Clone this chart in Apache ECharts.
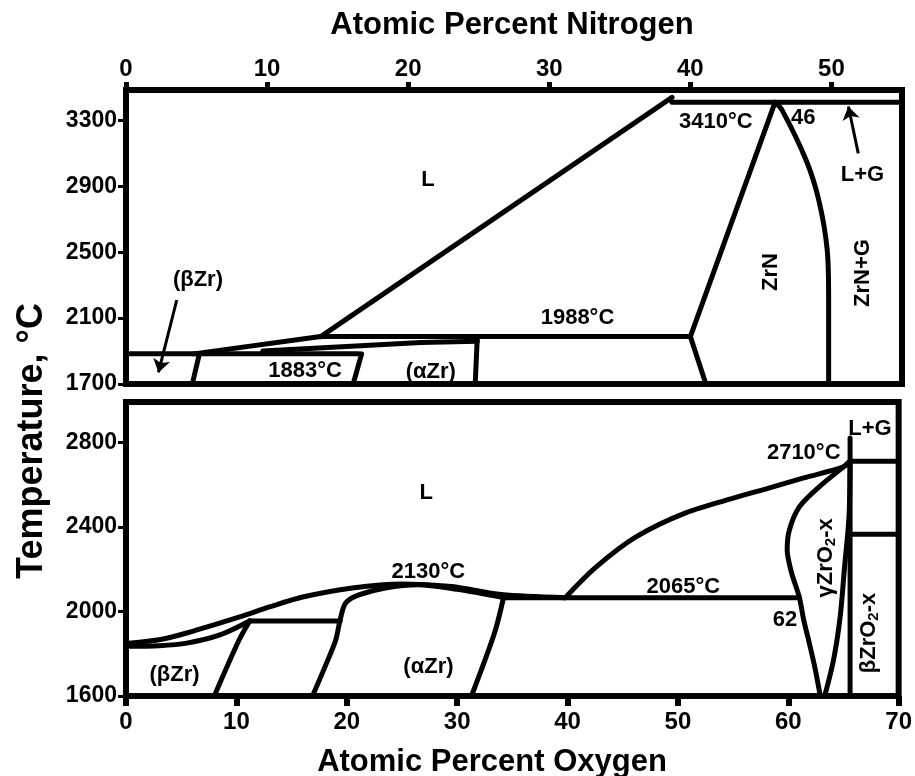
<!DOCTYPE html>
<html>
<head>
<meta charset="utf-8">
<title>Zr-N / Zr-O</title>
<script src="https://cdn.jsdelivr.net/npm/echarts@6/dist/echarts.min.js"></script>
<style>
  html, body { margin: 0; padding: 0; background: #fff; }
  #chart { width: 915px; height: 776px; }
</style>
</head>
<body>
<div id="chart"></div>
<script>
// ---- Zr-N (top panel): [at.% N, T in °C]
var nTicksX = [0, 10, 20, 30, 40, 50];
var nTicksY = [1700, 2100, 2500, 2900, 3300];
var nLiquidus = [[13.8, 1988], [38.7, 3440]];
var n3410 = [[38.7, 3410], [55, 3410]];
var n1988 = [[13.8, 1988], [40, 1988]];
var n1883 = [[0, 1883], [16.5, 1883]];
var nBetaLiquidus = [[4.8, 1883], [13.8, 1988]];
var nAlphaSolidus = [[9.7, 1900], [20.9, 1952], [24.9, 1960]];
var nBetaBoundary = [[5.2, 1883], [4.7, 1700]];
var nAlphaLeft = [[16.7, 1883], [16.1, 1700]];
var nAlphaRight = [[24.9, 1988], [24.75, 1700]];
var nZrNLeft = [[46, 3410], [40, 1988], [41.1, 1700]];
var nZrNRight = [[46, 3410], [46.5, 3363], [48.2, 3060], [49.1, 2817], [49.7, 2513], [49.8, 2210], [49.8, 1700]];
var nBetaArrow = [[3.6, 2210], [2.3, 1770]];
var nGasArrow = [[51.9, 3100], [51.2, 3385]];
var nLabels = [
  [21.4, 2938, 'L'],
  [5.1, 2331, '(βZr)'],
  [12.7, 1780, '1883°C'],
  [21.6, 1776, '(αZr)'],
  [32.0, 2100, '1988°C'],
  [41.8, 3290, '3410°C'],
  [48.0, 3315, '46'],
  [52.2, 2970, 'L+G']
];
var nLabelsVertical = [[45.7, 2380, 'ZrN'], [52.2, 2374, 'ZrN+G']];

// ---- Zr-O (bottom panel): [at.% O, T in °C]
var oTicksX = [0, 10, 20, 30, 40, 50, 60, 70];
var oTicksY = [1600, 2000, 2400, 2800];
var oLiquidusLeft = [[0, 1848], [3, 1866], [5.5, 1898], [10.3, 1974], [13, 2021], [16, 2068], [20.5, 2111], [25, 2130], [29.5, 2118], [34, 2080], [39.8, 2065]];
var oSolidusLeft = [[0, 1835], [3, 1838], [5.5, 1850], [8.5, 1889], [11.2, 1955]];
var oBetaBoundary = [[11.2, 1955], [10.2, 1860], [8, 1600]];
var oPeritectic = [[11.2, 1955], [19.4, 1955]];
var oAlphaSolidus = [[16.9, 1600], [18.1, 1747], [19, 1865], [19.4, 1960], [19.9, 2040], [21.1, 2078], [23.5, 2111], [26.5, 2126], [30, 2104], [34.2, 2065]];
var oAlphaRight = [[34.2, 2065], [33.4, 1900], [31.3, 1600]];
var oEutectic = [[34.2, 2065], [61, 2065]];
var oLiquidusRight = [[39.8, 2065], [42.6, 2210], [46.2, 2352], [50.7, 2466], [55.4, 2541], [58.3, 2584], [61.4, 2631], [65, 2683], [65.6, 2710]];
var oGammaLeft = [[65.6, 2710], [65, 2683], [62.8, 2589], [61, 2494], [60.1, 2385], [59.9, 2291], [60.3, 2182], [61, 2068], [61.4, 1959], [61.9, 1851], [62.4, 1737], [62.9, 1600]];
var oGammaRight = [[63.3, 1600], [64.1, 1770], [64.7, 1974], [65.1, 2210], [65.5, 2447], [65.6, 2710]];
var oStoich = [[65.6, 1600], [65.6, 2820]];
var o2710 = [[65.6, 2710], [70, 2710]];
var o2370 = [[65.6, 2365], [70, 2365]];
var oLabels = [
  [27.2, 2560, 'L'],
  [27.4, 2187, '2130°C'],
  [4.4, 1700, '(βZr)'],
  [27.4, 1737, '(αZr)'],
  [50.5, 2115, '2065°C'],
  [59.7, 1960, '62'],
  [61.4, 2747, '2710°C'],
  [67.4, 2862, 'L+G']
];
var oLabelsVertical = [[63.4, 2253, 'γZrO{s|2}-x'], [67.3, 1898, 'βZrO{s|2}-x']];

var FONT = '"Liberation Sans", Arial, Helvetica, sans-serif';
var chart = echarts.init(document.getElementById('chart'));

// 相界线
function boundary(data, panel, smooth) {
  return {
    type: 'line', data: data, xAxisIndex: panel, yAxisIndex: panel,
    symbol: 'none', smooth: smooth ? 0.3 : false, silent: true,
    lineStyle: { color: '#000', width: 5, cap: 'round', join: 'round' }
  };
}

function labels(list, panel, rotate) {
  return {
    type: 'scatter', xAxisIndex: panel, yAxisIndex: panel, silent: true,
    symbolSize: 1, itemStyle: { color: 'rgba(0,0,0,0)', opacity: 1 },
    data: list.map(function (d) { return { value: [d[0], d[1]], name: d[2] }; }),
    label: {
      show: true, position: 'inside', formatter: '{b}', rotate: rotate || 0, opacity: 1,
      color: '#000', fontSize: 22, fontWeight: 'bold', fontFamily: FONT,
      rich: { s: { fontSize: 15, fontWeight: 'bold', fontFamily: FONT, color: '#000', padding: [10, 0, 0, 0] } }
    }
  };
}

function arrow(coords, panel) {
  return {
    type: 'lines', coordinateSystem: 'cartesian2d', xAxisIndex: panel, yAxisIndex: panel,
    silent: true, symbol: ['none', 'arrow'], symbolSize: 13,
    lineStyle: { color: '#000', width: 3, opacity: 1, curveness: 0 },
    data: [{ coords: coords }]
  };
}

function tickLabel(size, margin, values) {
  return {
    customValues: values, color: '#000', fontSize: size, fontWeight: 'bold', fontFamily: FONT, margin: margin,
    formatter: function (v) { return String(v); }
  };
}
function tick(len, width, values) {
  return { show: true, customValues: values, length: len, lineStyle: { color: '#000', width: width } };
}

var option = {
  animation: false,
  backgroundColor: '#fff',
  grid: [
    { left: 126, width: 776, top: 90, height: 294, show: true, borderColor: '#000', borderWidth: 6 },
    { left: 126, width: 776, top: 402, height: 294, show: true, borderColor: '#000', borderWidth: 6 }
  ],
  xAxis: [
    { type: 'value', gridIndex: 0, position: 'top', min: 0, max: 55, axisLine: { show: false }, splitLine: { show: false },
      axisTick: tick(8, 5, nTicksX), axisLabel: tickLabel(24, 9, nTicksX) },
    { type: 'value', gridIndex: 1, position: 'bottom', min: 0, max: 70, axisLine: { show: false }, splitLine: { show: false },
      axisTick: tick(10, 6, oTicksX), axisLabel: tickLabel(24, 14, oTicksX) }
  ],
  yAxis: [
    { type: 'value', gridIndex: 0, min: 1700, max: 3485, axisLine: { show: false }, splitLine: { show: false },
      axisTick: tick(8, 3, nTicksY), axisLabel: tickLabel(23, 9, nTicksY) },
    { type: 'value', gridIndex: 1, min: 1600, max: 2990, axisLine: { show: false }, splitLine: { show: false },
      axisTick: tick(8, 3, oTicksY), axisLabel: tickLabel(23, 9, oTicksY) }
  ],
  graphic: [
    { type: 'text', x: 512, y: 25, style: { text: 'Atomic Percent Nitrogen', fontSize: 31, fontWeight: 'bold', fontFamily: FONT, fill: '#000', align: 'center', verticalAlign: 'middle' } },
    { type: 'text', x: 492, y: 762, style: { text: 'Atomic Percent Oxygen', fontSize: 31, fontWeight: 'bold', fontFamily: FONT, fill: '#000', align: 'center', verticalAlign: 'middle' } },
    { type: 'text', x: 32, y: 441, rotation: Math.PI / 2, style: { text: 'Temperature, °C', fontSize: 36, fontWeight: 'bold', fontFamily: FONT, fill: '#000', align: 'center', verticalAlign: 'middle' } }
  ],
  series: [
    boundary(nLiquidus, 0), boundary(n3410, 0), boundary(n1988, 0), boundary(n1883, 0),
    boundary(nBetaLiquidus, 0), boundary(nAlphaSolidus, 0), boundary(nBetaBoundary, 0),
    boundary(nAlphaLeft, 0), boundary(nAlphaRight, 0), boundary(nZrNLeft, 0), boundary(nZrNRight, 0, true),
    arrow(nBetaArrow, 0), arrow(nGasArrow, 0),
    labels(nLabels, 0), labels(nLabelsVertical, 0, 90),

    boundary(oLiquidusLeft, 1, true), boundary(oSolidusLeft, 1, true), boundary(oBetaBoundary, 1, true),
    boundary(oPeritectic, 1), boundary(oAlphaSolidus, 1, true), boundary(oAlphaRight, 1, true),
    boundary(oEutectic, 1), boundary(oLiquidusRight, 1, true), boundary(oGammaLeft, 1, true),
    boundary(oGammaRight, 1, true), boundary(oStoich, 1), boundary(o2710, 1), boundary(o2370, 1),
    labels(oLabels, 1), labels(oLabelsVertical, 1, 90)
  ]
};
// 把配置塞进去
chart.setOption(option);
</script>
</body>
</html>
